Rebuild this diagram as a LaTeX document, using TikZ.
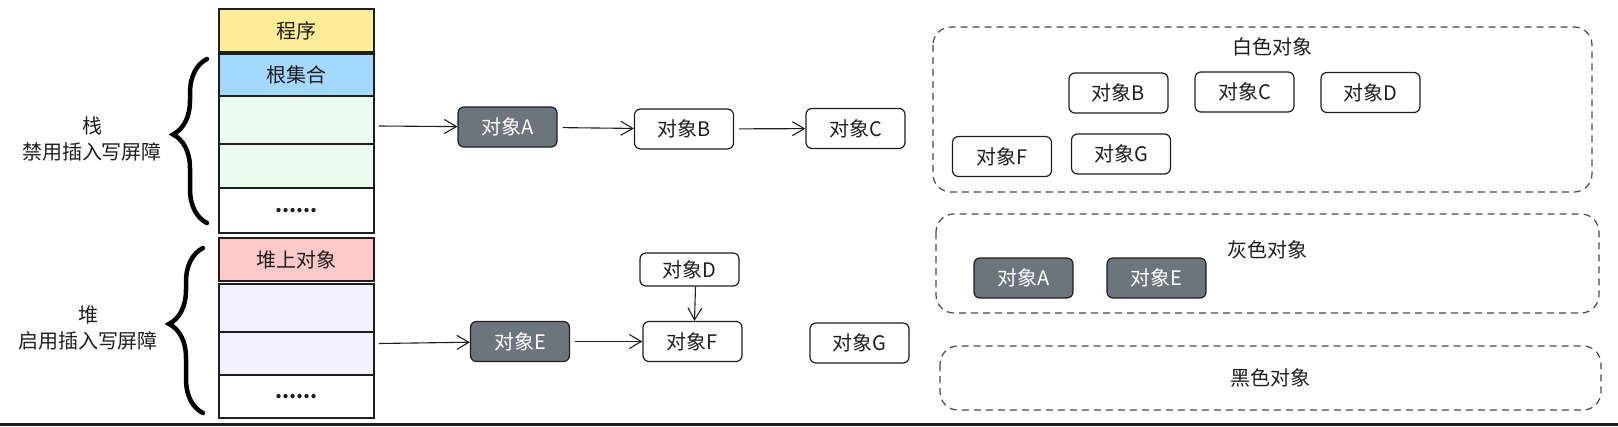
\documentclass[tikz,border=0pt]{standalone}
\usepackage{fontspec}
\setmainfont{Noto Sans CJK SC}
\usetikzlibrary{arrows.meta,decorations.pathreplacing}
\definecolor{ink}{HTML}{1E1E1E}
\definecolor{progyellow}{HTML}{FFEC99}
\definecolor{rootblue}{HTML}{A5D8FF}
\definecolor{stackgreen}{HTML}{EBFBEE}
\definecolor{heapred}{HTML}{FFC9C9}
\definecolor{heappurple}{HTML}{F3F0FF}
\definecolor{objgrey}{HTML}{6C757D}
\definecolor{panelline}{HTML}{4A4A4A}
\begin{document}
\begin{tikzpicture}[x=1pt, y=-1pt,
    every node/.style={font=\fontsize{20}{26}\selectfont, text=ink},
    cell/.style={draw=ink, line width=1.8pt, minimum width=155pt, inner sep=0pt},
    obj/.style={draw=ink, line width=1.2pt, rounded corners=6pt, minimum width=99pt, minimum height=40pt, fill=white},
    objgrey/.style={obj, fill=objgrey, text=white},
    panel/.style={draw=panelline, line width=1.2pt, rounded corners=18pt, dash pattern=on 7pt off 5pt},
    arr/.style={-{Straight Barb[length=12pt,width=14pt]}, line width=1.1pt, draw=ink},
    bracket/.style={decorate, decoration={brace, amplitude=34pt, aspect=0.54}, line width=4.5pt, line cap=round}]
  \useasboundingbox (0,0) rectangle (1618,426);
  % left: stack and heap
  \node[cell, fill=progyellow, minimum height=43pt] (prog) at (296.5,30.5) {程序};
  \node[cell, fill=rootblue, minimum height=42pt] (root) at (296.5,75) {根集合};
  \node[cell, fill=stackgreen, minimum height=92pt] (stackrows) at (296.5,142) {};
  \node[cell, fill=white, minimum height=45pt] (stackdots) at (296.5,210.5) {\textbf{......}};
  \node[cell, fill=heapred, minimum height=43pt] (heaptop) at (296.5,259.5) {堆上对象};
  \node[cell, fill=heappurple, minimum height=91pt] (heaprows) at (296.5,329.5) {};
  \node[cell, fill=white, minimum height=43pt] (heapdots) at (296.5,396.5) {\textbf{......}};
  \draw[line width=1.5pt, ink] ([yshift=-2pt]stackrows.west) -- ([yshift=-2pt]stackrows.east)
                               ([yshift=-2.5pt]heaprows.west) -- ([yshift=-2.5pt]heaprows.east);
  \draw[bracket] (207,223) -- (207,59);
  \draw[bracket] (203,413) -- (203,248);
  \node[align=center] (stacklabel) at (92,139) {栈\\禁用插入写屏障};
  \node[align=center] (heaplabel) at (88,328) {堆\\启用插入写屏障};
  % middle: object graph
  \node[objgrey] (A) at (507.5,127) {对象A};
  \node[obj] (B) at (684,129) {对象B};
  \node[obj] (C) at (855.5,128.5) {对象C};
  \node[obj, minimum height=33pt] (D) at (689.5,269.5) {对象D};
  \node[objgrey] (E) at (520,341.5) {对象E};
  \node[obj] (F) at (692.5,341.5) {对象F};
  \node[obj] (G) at (859.5,343) {对象G};
  \draw[arr] ([xshift=4pt,yshift=16pt]stackrows.east) -- (A);
  \draw[arr] ([xshift=4pt,yshift=-14pt]heaprows.east) -- (E);
  \draw[arr, shorten <=5pt] (A) -- (B);
  \draw[arr, shorten <=5pt] (B) -- (C);
  \draw[arr, shorten <=5pt] (E) -- (F);
  \draw[arr] ([xshift=6pt]D.south) -- ([xshift=2pt]F.north);
  % right: colour sets
  \draw[panel] (933,27) rectangle (1592,192);
  \draw[panel] (936,214) rectangle (1599,313);
  \draw[panel] (940,346) rectangle (1601,410);
  \node (white) at (1272,47) {白色对象};
  \node (grey) at (1267,250) {灰色对象};
  \node (black) at (1270,378) {黑色对象};
  \node[obj] (wB) at (1118.5,93) {对象B};
  \node[obj] (wC) at (1244.5,92) {对象C};
  \node[obj] (wD) at (1370.5,92.5) {对象D};
  \node[obj] (wF) at (1002,156.5) {对象F};
  \node[obj] (wG) at (1121,154) {对象G};
  \node[objgrey] (gA) at (1023.5,278) {对象A};
  \node[objgrey] (gE) at (1156.5,278) {对象E};
  \fill[ink] (0,423) rectangle (1618,426);
\end{tikzpicture}
\end{document}
